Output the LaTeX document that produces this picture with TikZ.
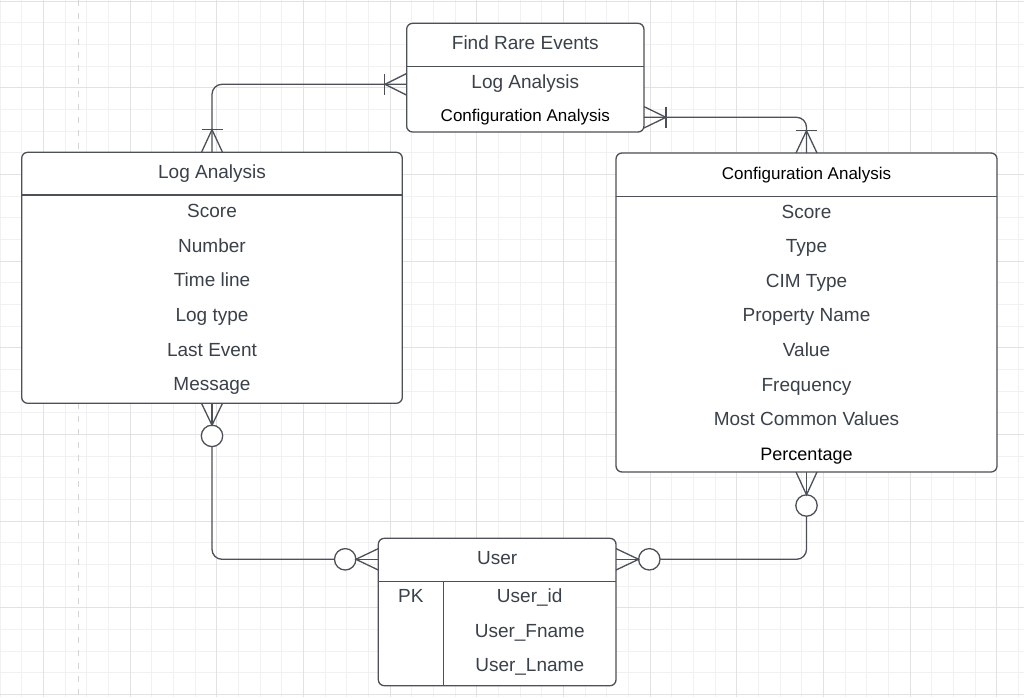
\documentclass[tikz,border=0pt]{standalone}
\usepackage{fontspec}
\setmainfont{Liberation Sans}
\usetikzlibrary{calc}
\definecolor{ln}{HTML}{4B5059}
\definecolor{tx}{HTML}{3A414A}
\definecolor{gmin}{HTML}{F1F1F1}
\definecolor{gmaj}{HTML}{E2E2E2}
\definecolor{dsh}{HTML}{D4D4D4}
\tikzset{
 ent/.style={draw=ln, line width=1.3pt, fill=white, rounded corners=6pt, inner sep=0pt, outer sep=0pt},
 conn/.style={draw=ln, line width=1.3pt},
 gtxt/.style={text=tx, font=\fontsize{19}{22}\selectfont, inner sep=0pt, anchor=base},
 btxt/.style={text=black, font=\fontsize{17}{20}\selectfont, inner sep=0pt, anchor=base},
 circ/.style={circle, draw=ln, line width=1.3pt, fill=white, minimum size=21.4pt, inner sep=0pt, outer sep=0pt},
}
\begin{document}
\begin{tikzpicture}[x=1pt,y=-1pt]
\fill[white] (0,0) rectangle (1024,697);
\useasboundingbox (0,0) rectangle (1024,697);
% grid
\foreach \i in {0,...,47} \draw[gmin, line width=0.8pt] (\i*21.667,0) -- (\i*21.667,697);
\foreach \i in {0,...,32} \draw[gmin, line width=0.8pt] (0,1+\i*21.667) -- (1024,1+\i*21.667);
\foreach \i in {0,...,11} \draw[gmaj, line width=0.9pt] (43.33+\i*86.667,0) -- (43.33+\i*86.667,697);
\foreach \i in {0,...,8} \draw[gmaj, line width=0.9pt] (0,1+\i*86.667) -- (1024,1+\i*86.667);
\draw[dsh, line width=1.6pt, dash pattern=on 6pt off 7pt] (78.3,0) -- (78.3,697);

% entities
\node[ent, minimum width=237.3pt, minimum height=108.7pt] (fre) at (525.3,77.65) {};
\node[ent, minimum width=380.6pt, minimum height=251pt] (la) at (212,277.8) {};
\node[ent, minimum width=381pt, minimum height=319pt] (ca) at (806.5,312.5) {};
\node[ent, minimum width=237.7pt, minimum height=147.4pt] (user) at (497.15,612) {};

% separators
\draw[conn] ([yshift=-43.4pt]fre.north west) -- ([yshift=-43.4pt]fre.north east);
\draw[conn] ([yshift=-42.7pt]la.north west) -- ([yshift=-42.7pt]la.north east);
\draw[conn] ([yshift=-43.7pt]ca.north west) -- ([yshift=-43.7pt]ca.north east);
\draw[conn] ([yshift=-43.4pt]user.north west) -- ([yshift=-43.4pt]user.north east);
\draw[conn] ([xshift=65pt,yshift=-43.4pt]user.north west) -- ([xshift=65pt]user.south west);

% texts: Find Rare Events
\node[gtxt] (fre-t) at (525.3,49.3) {Find Rare Events};
\node[gtxt] (fre-a) at (525.3,88.3) {Log Analysis};
\node[btxt] (fre-b) at (525.3,121) {Configuration Analysis};
% Log Analysis
\node[gtxt] (la-t) at (212,178) {Log Analysis};
\node[gtxt] (la-1) at (212,217.3) {Score};
\node[gtxt] (la-2) at (212,252.2) {Number};
\node[gtxt] (la-3) at (212,286.7) {Time line};
\node[gtxt] (la-4) at (212,321.4) {Log type};
\node[gtxt] (la-5) at (212,356) {Last Event};
\node[gtxt] (la-6) at (212,390.4) {Message};
% Configuration Analysis
\node[btxt] (ca-t) at (806.5,179.2) {Configuration Analysis};
\node[gtxt] (ca-1) at (806.5,218) {Score};
\node[gtxt] (ca-2) at (806.5,252.6) {Type};
\node[gtxt] (ca-3) at (806.5,287.2) {CIM Type};
\node[gtxt] (ca-4) at (806.5,321.8) {Property Name};
\node[gtxt] (ca-5) at (806.5,356.4) {Value};
\node[gtxt] (ca-6) at (806.5,391) {Frequency};
\node[gtxt] (ca-7) at (806.5,425.6) {Most Common Values};
\node[btxt, font=\fontsize{18}{21}\selectfont] (ca-8) at (806.5,460) {Percentage};
% User
\node[gtxt] (u-t) at (497.15,564) {User};
\node[gtxt] (u-pk) at (410.8,602.7) {PK};
\node[gtxt] (u-1) at (529.7,602.7) {User\_id};
\node[gtxt] (u-2) at (529.7,637.3) {User\_Fname};
\node[gtxt] (u-3) at (529.7,671.7) {User\_Lname};

% helper levels
\coordinate (y84) at (0,84.3);
\coordinate (y117) at (0,117.3);
\coordinate (fl) at (fre.west |- y84);
\coordinate (fr) at (fre.east |- y117);

% connector 1: Log Analysis -> Find Rare Events
\draw[conn, rounded corners=10pt] (la.north) |- (fl);
\draw[conn] ($(la.north)+(-10.5,0)$) -- ($(la.north)+(0,-22.7)$) -- ($(la.north)+(10.5,0)$);
\draw[conn] ($(la.north)+(-10.5,-22.7)$) -- ($(la.north)+(10.5,-22.7)$);
\draw[conn] ($(fl)+(0,-10.8)$) -- ($(fl)+(-21.7,0)$) -- ($(fl)+(0,10.8)$);
\draw[conn] ($(fl)+(-22.3,-10.8)$) -- ($(fl)+(-22.3,10.8)$);

% connector 2: Find Rare Events -> Configuration Analysis
\draw[conn, rounded corners=10pt] (fr) -| (ca.north);
\draw[conn] ($(fr)+(0,-10.7)$) -- ($(fr)+(22,0)$) -- ($(fr)+(0,10.7)$);
\draw[conn] ($(fr)+(22,-10.7)$) -- ($(fr)+(22,10.7)$);
\draw[conn] ($(ca.north)+(-10.5,0)$) -- ($(ca.north)+(0,-22.3)$) -- ($(ca.north)+(10.5,0)$);
\draw[conn] ($(ca.north)+(-10.5,-22.3)$) -- ($(ca.north)+(10.5,-22.3)$);

% connector 3: Log Analysis -> User
\node[circ] (c1) at (212,435.9) {};
\node[circ] (c2) at (345.2,559.3) {};
\draw[conn] (la.south) -- (c1.north);
\draw[conn] ($(la.south)+(-10.5,0)$) -- (c1.north) -- ($(la.south)+(10.5,0)$);
\draw[conn, rounded corners=10pt] (c1.south) |- (c2.west);
\draw[conn] (c2.east) -- (user.west |- c2);
\draw[conn] ($(user.west |- c2)+(0,-10.7)$) -- (c2.east) -- ($(user.west |- c2)+(0,10.7)$);

% connector 4: Configuration Analysis -> User
\node[circ] (c3) at (806.5,505.5) {};
\node[circ] (c4) at (649.3,559.3) {};
\draw[conn] (ca.south) -- (c3.north);
\draw[conn] ($(ca.south)+(-10.5,0)$) -- (c3.north) -- ($(ca.south)+(10.5,0)$);
\draw[conn, rounded corners=10pt] (c3.south) |- (c4.east);
\draw[conn] (c4.west) -- (user.east |- c4);
\draw[conn] ($(user.east |- c4)+(0,-10.7)$) -- (c4.west) -- ($(user.east |- c4)+(0,10.7)$);
\end{tikzpicture}
\end{document}
